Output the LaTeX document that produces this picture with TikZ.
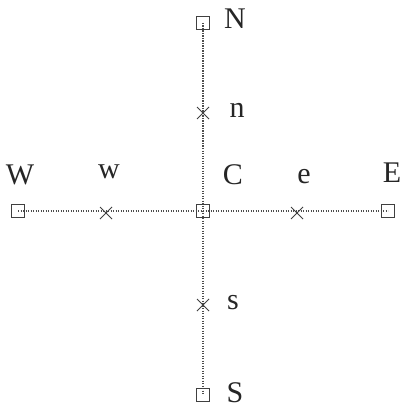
\documentclass[tikz,border=0pt]{standalone}
\usepackage{fontspec}
\setmainfont{Liberation Serif}
\usetikzlibrary{shapes.misc}
\begin{document}
\begin{tikzpicture}[x=1pt,y=-1pt,
  sq/.style={draw=black!75,line width=1pt,minimum size=13pt,inner sep=0pt},
  crs/.style={draw=black!75,line width=1pt,cross out,minimum size=11pt,inner sep=0pt},
  lbl/.style={text=black!85,font=\fontsize{30}{32}\selectfont,inner sep=0pt},
  dotline/.style={draw=black!70,line width=1.3pt,dash pattern=on 1.1pt off 1.4pt}]
\useasboundingbox (0,0) rectangle (402,409);
\coordinate (Nc) at (203,23);
\coordinate (Sc) at (203,395);
\coordinate (Wc) at (18,211);
\coordinate (Ec) at (388,211);
\draw[dotline] (Nc) -- (Sc);
\draw[dotline] (Wc) -- (Ec);
\node[sq] (N) at (Nc) {};
\node[sq] (S) at (Sc) {};
\node[sq] (W) at (Wc) {};
\node[sq] (E) at (Ec) {};
\node[sq] (C) at (203,211) {};
\node[crs] (n) at (203,113) {};
\node[crs] (s) at (203,305) {};
\node[crs] (w) at (106,213) {};
\node[crs] (e) at (297,213) {};
\node[lbl] (lN) at (235,19) {N};
\node[lbl] (ln) at (237,110) {n};
\node[lbl] (lC) at (233,175) {C};
\node[lbl] (lW) at (20,175) {W};
\node[lbl] (lw) at (109,172) {w};
\node[lbl] (le) at (304,177) {e};
\node[lbl] (lE) at (392,173) {E};
\node[lbl] (ls) at (233,303) {s};
\node[lbl] (lS) at (235,393) {S};
\end{tikzpicture}
\end{document}
